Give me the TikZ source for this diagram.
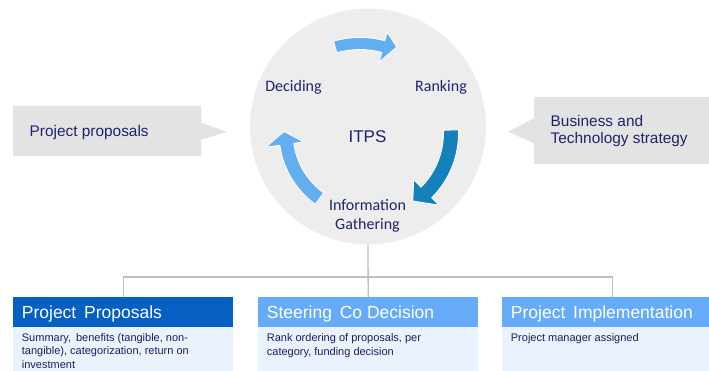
\documentclass[tikz,border=0pt]{standalone}
\usepackage{fontspec}
\setmainfont{Liberation Sans}
\newfontfamily\labelfont{Carlito}
\usetikzlibrary{calc}

\definecolor{ringgray}{HTML}{EDEDED}
\definecolor{calloutgray}{HTML}{E3E3E3}
\definecolor{ink}{HTML}{1F236E}
\definecolor{bodyink}{HTML}{1B1F5E}
\definecolor{lightarrow}{HTML}{62AEEF}
\definecolor{darkarrow}{HTML}{1581BA}
\definecolor{hdrdark}{HTML}{0560C1}
\definecolor{hdrlight}{HTML}{66ABF7}
\definecolor{bodyfill}{HTML}{EAF2FD}
\definecolor{connline}{HTML}{BFBFBF}

\tikzset{
  ring/.style={circle, fill=ringgray, inner sep=0pt, minimum size=236pt},
  cyclearrow/.style={draw=white, line width=0.8pt, line join=miter},
  phase/.style={font=\labelfont\fontsize{16}{19}\selectfont, text=ink, inner sep=0pt, align=center},
  hub/.style={font=\fontsize{17}{20}\selectfont, text=ink, inner sep=0pt},
  callout/.style={fill=calloutgray},
  callouttext/.style={font=\fontsize{15.4}{17}\selectfont, text=ink, inner sep=0pt, align=left},
  header/.style={inner sep=0pt, minimum width=220pt, minimum height=30pt, anchor=north west},
  bodybox/.style={fill=bodyfill, inner sep=0pt, minimum width=220pt, minimum height=55pt, anchor=north west},
  headertext/.style={font=\fontsize{17.5}{20}\selectfont, text=white, inner sep=0pt, anchor=base west},
  bodytext/.style={font=\fontsize{11}{13.3}\selectfont, text=bodyink, inner sep=0pt, anchor=base west, align=left},
  conn/.style={draw=connline, line width=1.3pt}
}

\begin{document}
\begin{tikzpicture}[x=1pt,y=1pt]
\useasboundingbox (0,0) rectangle (709,370);
\clip (0,0) rectangle (709,370);

% central cycle disc
\node[ring] (cycle) at (368,243.5) {};

% top arrow: Deciding -> Ranking
\begin{scope}[shift={(360,236.5)}]
  \filldraw[cyclearrow, fill=lightarrow]
    (106:96pt) arc[start angle=106, end angle=75, radius=96pt]
    -- (75:105pt) -- (67:94pt) -- (75:74pt) -- (75:84pt)
    arc[start angle=75, end angle=106, radius=84pt] -- cycle;
\end{scope}

% right arrow: Ranking -> Information Gathering
\begin{scope}[shift={(367,237)}]
  \filldraw[cyclearrow, fill=darkarrow]
    (2:91.5pt) arc[start angle=2, end angle=-45, radius=91.5pt]
    -- (-45:102pt) -- (-56:82pt) -- (-45:66pt) -- (-45:76.5pt)
    arc[start angle=-45, end angle=2, radius=76.5pt] -- cycle;
\end{scope}

% left arrow: Information Gathering -> Deciding
\begin{scope}[shift={(367,237)}]
  \filldraw[cyclearrow, fill=lightarrow]
    (234:88pt) arc[start angle=234, end angle=188, radius=88pt]
    -- (188:102pt) -- (179:83pt) -- (188:64pt) -- (188:74pt)
    arc[start angle=188, end angle=234, radius=74pt] -- cycle;
\end{scope}

% phase labels
\node[phase] (deciding) at (293.5,283) {Deciding};
\node[phase] (ranking) at (441,283) {Ranking};
\node[hub] (itps) at (367.5,233) {ITPS};
\node[phase] (gathering) at (367.5,154.5) {Information\\Gathering};

% input callouts
\fill[callout] (13,264) -- (201,264) -- (201,247.3) -- (227,238.3)
  -- (201,230) -- (201,214) -- (13,214) -- cycle;
\node[callouttext, anchor=base west] (proposals) at (29.5,233.3) {Project proposals};

\fill[callout] (722,273) -- (534,273) -- (534,251.7) -- (508,238.3)
  -- (534,226.7) -- (534,206) -- (722,206) -- cycle;
\node[callouttext, anchor=west] (strategy) at (550.5,238.5) {Business and\\Technology strategy};

% stage boxes
\node[header, fill=hdrdark] (prophead) at (13,73) {};
\node[bodybox] (propbody) at (13,43) {};
\node[header, fill=hdrlight] (steerhead) at (258,73) {};
\node[bodybox] (steerbody) at (258,43) {};
\node[header, fill=hdrlight] (implhead) at (502,73) {};
\node[bodybox] (implbody) at (502,43) {};

\node[headertext] (proptitle) at (21.7,51.5) {Project\, Proposals};
\node[headertext] (steertitle) at (266.7,51.5) {Steering\, Co Decision};
\node[headertext] (impltitle) at (510.7,51.5) {Project\, Implementation};

% multi-line texts: the base anchor sits on the last line
\node[bodytext] (proptext) at (21.7,2.0) {Summary,\, benefits (tangible, non-\\tangible), categorization, return on\\investment};
\node[bodytext] (steertext) at (266.7,15.0) {Rank ordering of proposals, per\\category, funding decision};
\node[bodytext] (impltext) at (510.7,28.3) {Project manager assigned};

% connectors from the cycle to the stages
\coordinate (bus) at (368,93);
\draw[conn] (cycle.south) -- (steerhead.north);
\draw[conn] (prophead.north) |- (bus) -| (implhead.north);
\end{tikzpicture}
\end{document}
